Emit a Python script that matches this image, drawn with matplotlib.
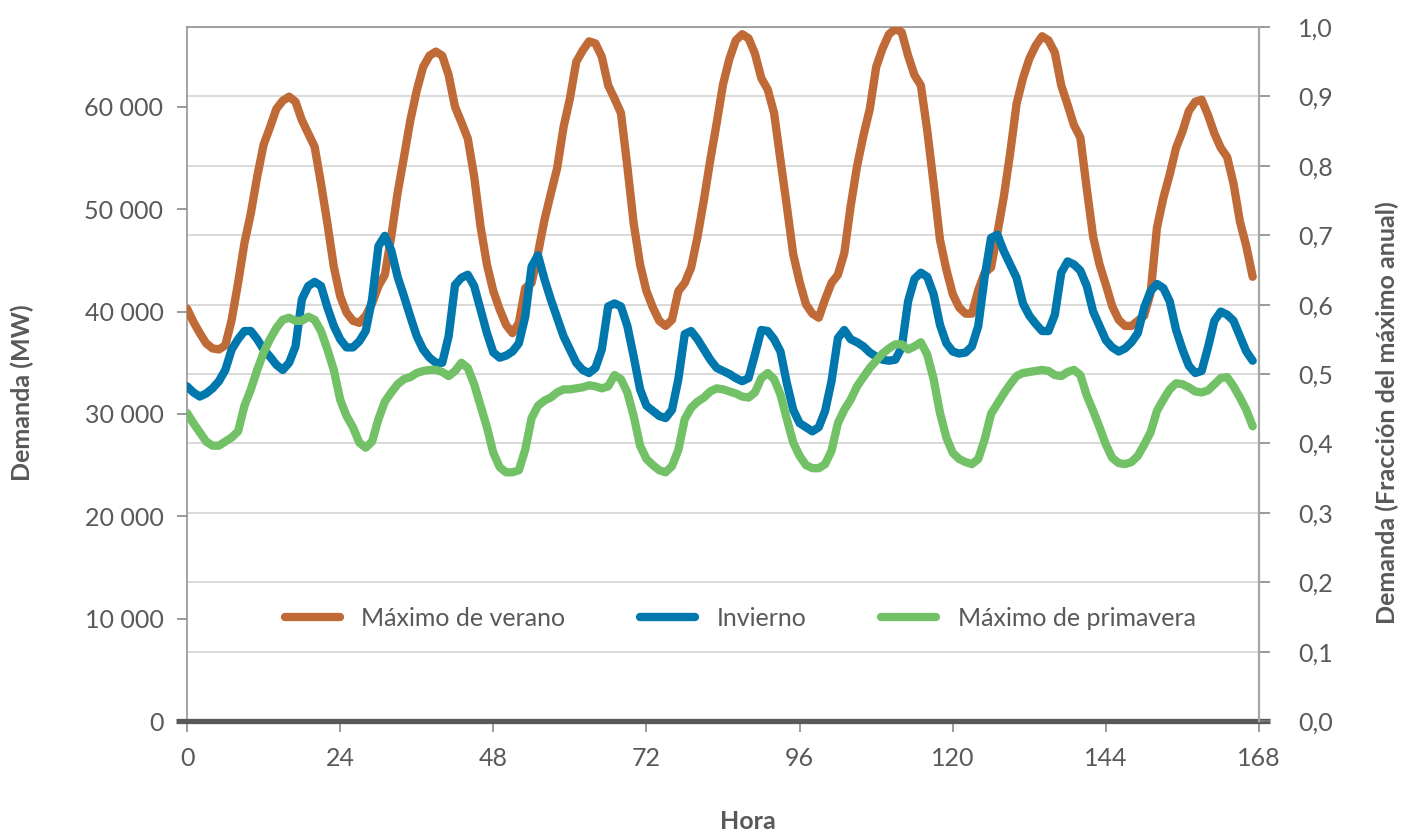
import numpy as np
import matplotlib
matplotlib.use("Agg")
import matplotlib.pyplot as plt
from matplotlib.ticker import FixedLocator, FuncFormatter

# demanda horaria (MW) de una semana
verano = [40300, 39000, 37900, 36900, 36400, 36300, 36700, 39200, 42800, 46700,
          49600, 53200, 56300, 58000, 59800, 60600, 61000, 60500, 58700, 57400,
          56100, 52500, 48600, 44400, 41500, 39900, 39100, 38900, 39600, 40800,
          42500, 43600, 47300, 51600, 55100, 58700, 61600, 63900, 65000, 65400,
          65000, 63100, 60000, 58500, 56900, 53200, 48300, 44600, 42000, 40200,
          38700, 37900, 38900, 42300, 42800, 45700, 48900, 51500, 54000, 58000,
          60800, 64400, 65500, 66400, 66200, 64900, 62100, 60800, 59400, 54200,
          48600, 44600, 42000, 40400, 39100, 38600, 39200, 42000, 42800, 44300,
          47300, 50900, 54800, 58400, 62200, 64700, 66500, 67100, 66700, 65200,
          62800, 61700, 59400, 54800, 50300, 45600, 42900, 40700, 39800, 39400,
          41200, 42800, 43600, 45700, 50300, 54200, 57200, 59800, 63900, 65700,
          67100, 67600, 67300, 65000, 63100, 62100, 57700, 52500, 47000, 44100,
          41700, 40400, 39800, 39800, 42100, 43800, 44300, 47700, 51200, 55500,
          60300, 62800, 64700, 66000, 66900, 66500, 65300, 62100, 60200, 58200,
          57000, 52000, 47300, 44600, 42600, 40500, 39200, 38600, 38600, 39100,
          39600, 41800, 48200, 51100, 53400, 56000, 57600, 59600, 60500, 60700,
          59200, 57400, 56000, 55100, 52500, 48800, 46400, 43400]
invierno = [32700, 32100, 31700, 32000, 32500, 33200, 34300, 36300, 37300, 38100,
            38100, 37300, 36300, 35600, 34800, 34300, 35000, 36600, 41200, 42500,
            42900, 42500, 40400, 38600, 37300, 36500, 36500, 37100, 38100, 41200,
            46400, 47400, 46000, 43400, 41500, 39500, 37600, 36300, 35500, 35000,
            35000, 37600, 42600, 43300, 43600, 42500, 40200, 37900, 36000, 35500,
            35700, 36100, 36900, 39500, 44400, 45500, 43200, 41200, 39400, 37600,
            36300, 35000, 34300, 34000, 34500, 36300, 40500, 40800, 40500, 38600,
            35600, 32400, 30800, 30300, 29800, 29600, 30400, 33400, 37800, 38100,
            37300, 36300, 35300, 34500, 34200, 33900, 33500, 33200, 33500, 35800,
            38200, 38100, 37300, 36100, 33000, 30400, 29100, 28700, 28300, 28700,
            30300, 33200, 37400, 38200, 37300, 37000, 36600, 36000, 35600, 35300,
            35200, 35300, 36500, 41000, 43200, 43800, 43400, 41700, 38700, 36900,
            36100, 35900, 36000, 36600, 38600, 43400, 47200, 47500, 45900, 44600,
            43300, 40800, 39600, 38800, 38100, 38100, 39700, 43800, 44900, 44600,
            44000, 42500, 40000, 38600, 37200, 36500, 36100, 36400, 37000, 37900,
            40400, 42000, 42700, 42300, 41000, 38200, 36300, 34700, 34000, 34200,
            36500, 39100, 40000, 39700, 39100, 37600, 36100, 35200]
primavera = [30100, 29100, 28200, 27300, 26900, 26900, 27300, 27700, 28300, 30800,
             32400, 34300, 36000, 37300, 38400, 39200, 39400, 39100, 39100, 39500,
             39200, 38100, 36300, 34300, 31400, 29800, 28700, 27200, 26700, 27300,
             29500, 31200, 32100, 32900, 33400, 33600, 34000, 34200, 34300, 34300,
             34100, 33700, 34200, 35000, 34500, 32900, 30800, 28700, 26200, 24800,
             24300, 24300, 24500, 26500, 29600, 30800, 31300, 31600, 32100, 32400,
             32400, 32500, 32600, 32800, 32700, 32500, 32700, 33800, 33400, 32100,
             29800, 26900, 25600, 25000, 24500, 24300, 24900, 26500, 29500, 30600,
             31200, 31600, 32200, 32500, 32400, 32200, 32000, 31700, 31600, 32100,
             33500, 34000, 33400, 31900, 29500, 27200, 25900, 25000, 24700, 24700,
             25100, 26400, 29100, 30400, 31400, 32700, 33600, 34500, 35200, 35900,
             36400, 36800, 36800, 36300, 36600, 37000, 35800, 33400, 30100, 27700,
             26200, 25600, 25300, 25100, 25600, 27500, 30000, 31000, 32000, 32900,
             33700, 34000, 34100, 34200, 34300, 34200, 33800, 33700, 34100, 34300,
             33800, 31800, 30300, 28700, 27000, 25700, 25200, 25100, 25300, 25900,
             27000, 28200, 30300, 31400, 32400, 33000, 32900, 32600, 32200, 32100,
             32300, 32900, 33500, 33600, 32700, 31600, 30400, 28800]
horas = np.arange(len(verano))
maximo_anual = 67800  # MW, equivale a 1,0 en el eje derecho

series = ["Máximo de verano", "Invierno", "Máximo de primavera"]
colores = ["#C06A37", "#0077AD", "#73C167"]
ticks_x = [0, 24, 48, 72, 96, 120, 144, 168]
ticks_mw = [0, 10000, 20000, 30000, 40000, 50000, 60000]
ticks_frac = np.round(np.arange(0, 1.01, 0.1), 1)

gris = "#595959"
plt.rcParams["font.family"] = ["Lato", "DejaVu Sans"]

fig = plt.figure(figsize=(14.03, 8.32), dpi=100)
ax = fig.add_axes([0.1333, 0.1334, 0.7641, 0.8341])

for datos, nombre, color in zip([verano, invierno, primavera], series, colores):
    ax.plot(horas, datos, color=color, lw=6.0, label=nombre,
            solid_capstyle="round", solid_joinstyle="round", zorder=3)

ax.set_xlim(0, 168)
ax.set_ylim(0, maximo_anual)
ax.set_xticks(ticks_x)
ax.set_yticks(ticks_mw)
ax.yaxis.set_major_formatter(FuncFormatter(lambda v, p: f"{int(v):,}".replace(",", " ")))

# lineas de cuadricula en las fracciones del maximo anual
ax.yaxis.set_minor_locator(FixedLocator(ticks_frac[1:] * maximo_anual))
ax.grid(which="minor", axis="y", color="#d4d4d4", lw=1.2, zorder=0)
ax.tick_params(which="minor", length=0)

ax.tick_params(axis="y", which="major", direction="out", length=7, width=1.1,
               color="#7f7f7f", labelsize=18, labelcolor=gris, pad=10)
ax.tick_params(axis="x", which="major", direction="out", length=8, width=1.1,
               color="#7f7f7f", labelsize=18, labelcolor=gris, pad=11)

for lado in ["left", "top"]:
    ax.spines[lado].set_color("#8c8c8c")
    ax.spines[lado].set_linewidth(1.1)
ax.spines["right"].set_visible(False)
ax.spines["bottom"].set_visible(False)
ax.plot([-0.0103, 1.0103], [0, 0], transform=ax.transAxes, color=gris,
        lw=3.8, clip_on=False, zorder=4, solid_capstyle="butt")

ax2 = ax.twinx()
ax2.set_ylim(0, 1)
ax2.set_yticks(ticks_frac)
ax2.set_yticklabels([f"{v:.1f}".replace(".", ",") for v in ticks_frac])
ax2.tick_params(axis="y", direction="out", length=8, width=1.1, color="#7f7f7f",
                labelsize=18, labelcolor=gris, pad=45)
for t in ax2.get_yticklabels():
    t.set_horizontalalignment("right")
for lado in ["left", "top", "bottom"]:
    ax2.spines[lado].set_visible(False)
ax2.spines["right"].set_color("#a6a6a6")
ax2.spines["right"].set_linewidth(1.6)

ax.set_ylabel("Demanda (MW)", fontsize=18, fontweight="bold", color=gris)
ax.yaxis.set_label_coords(-0.143, 0.473)
ax2.set_ylabel("Demanda (Fracción del máximo anual)", fontsize=18,
               fontweight="bold", color=gris, rotation=90)
ax2.yaxis.set_label_coords(1.109, 0.444)
ax.set_xlabel("Hora", fontsize=18, fontweight="bold", color=gris)
ax.xaxis.set_label_coords(0.523, -0.128)

leg = ax.legend(loc="center", bbox_to_anchor=(0.516, 0.148), ncol=3, frameon=False,
                fontsize=18, handlelength=2.2, handletextpad=0.85, columnspacing=3.0)
for t in leg.get_texts():
    t.set_color(gris)

fig.savefig("out.png", dpi=100)
